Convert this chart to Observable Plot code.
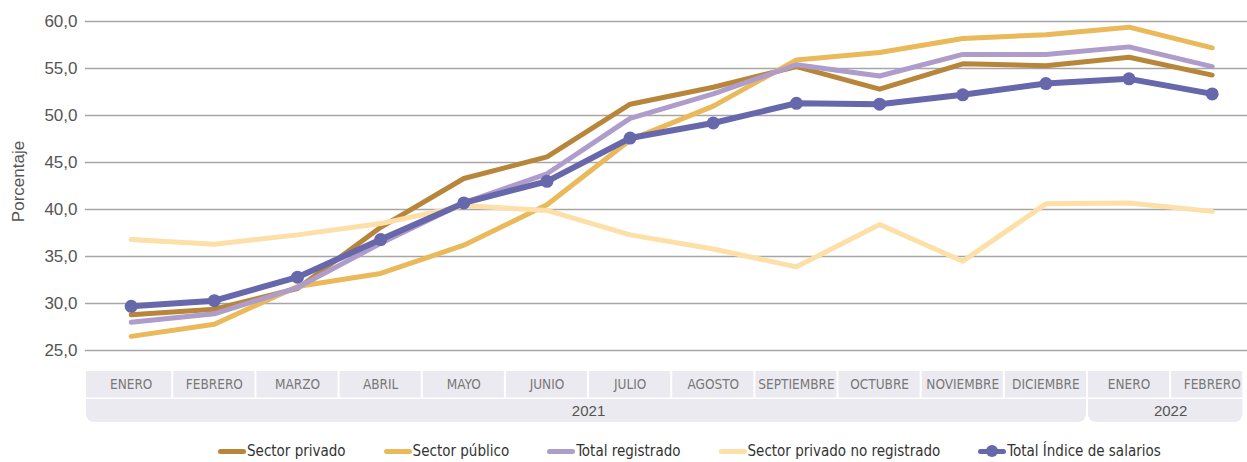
<!DOCTYPE html>
<html>
<head>
<meta charset="utf-8">
<script src="https://cdn.jsdelivr.net/npm/d3@7"></script>
<script src="https://cdn.jsdelivr.net/npm/@observablehq/plot@0.6"></script>
<style>
  body { margin: 0; background: #fff; font-family: "Liberation Sans", Arial, sans-serif; }
  #chart svg { display: block; }
  #legend { display: flex; align-items: center; padding-left: 218px; gap: 38px; height: 30px; margin-top: 6px;
            font-family: "Liberation Sans Narrow", "DejaVu Sans Condensed", "Roboto Condensed", "Liberation Sans", sans-serif;
            font-size: 15px; color: #333; }
  .item { display: flex; align-items: center; white-space: nowrap; }
  .sw { position: relative; width: 28px; height: 5px; border-radius: 3px; margin-right: 1px; }
  .sw .dot { position: absolute; left: 8px; top: -3.5px; width: 12px; height: 12px; border-radius: 50%; }
</style>
</head>
<body>
<div id="chart"></div>
<div id="legend"></div>
<script>
// ---- data ----
const months = ["ENERO","FEBRERO","MARZO","ABRIL","MAYO","JUNIO","JULIO","AGOSTO","SEPTIEMBRE","OCTUBRE","NOVIEMBRE","DICIEMBRE","ENERO","FEBRERO"];
const yearOf = ["2021","2021","2021","2021","2021","2021","2021","2021","2021","2021","2021","2021","2022","2022"];
const yearLabels = ["2021","2022"];
const yTicks = [25,30,35,40,45,50,55,60];

const sectorPrivado      = [28.8,29.4,31.6,38.1,43.3,45.6,51.2,53.0,55.2,52.8,55.5,55.3,56.2,54.3];
const sectorPublico      = [26.5,27.8,31.8,33.2,36.2,40.5,47.4,51.0,55.9,56.7,58.2,58.6,59.4,57.2];
const totalRegistrado    = [28.0,28.9,31.7,36.4,40.7,43.8,49.7,52.3,55.4,54.2,56.5,56.5,57.3,55.2];
const privadoNoRegistrado= [36.8,36.3,37.3,38.5,40.4,39.9,37.3,35.8,33.9,38.4,34.5,40.6,40.7,39.8];
const totalIndice        = [29.7,30.3,32.8,36.8,40.7,43.0,47.6,49.2,51.3,51.2,52.2,53.4,53.9,52.3];

const seriesNames  = ["Sector privado","Sector público","Total registrado","Sector privado no registrado","Total Índice de salarios"];
const seriesColors = ["#B8863B","#E9B95A","#AE9CCB","#FDDFA8","#6767AC"];
const seriesValues = [sectorPrivado, sectorPublico, totalRegistrado, privadoNoRegistrado, totalIndice];
const yLabel = "Porcentaje";

// ---- build tables ----
const rows = seriesNames.slice(0, 4).flatMap((s, k) => seriesValues[k].map((v, i) => ({serie: s, i, v})));
const totalRows = totalIndice.map((v, i) => ({serie: seriesNames[4], i, v}));

// ---- layout ----
const W = 1247, H = 430;
const yPxTop = 21, yPxBottom = 350;
const yMin = 25, yMax = 60;
const yAt = px => yMin + (yPxBottom - px) * (yMax - yMin) / (yPxBottom - yPxTop); // pixel -> y value (for the axis band)
const xStart = -0.55, xEnd = 13.38;
const cells = months.map((m, i) => ({i, m, x1: i === 0 ? xStart : i - 0.5, x2: i === months.length - 1 ? xEnd : i + 0.5}));
const yearCells = yearLabels.map(y => {
  const idx = yearOf.map((v, i) => v === y ? i : -1).filter(i => i >= 0);
  const a = idx[0], b = idx[idx.length - 1];
  return {y, mid: (a + b) / 2, x1: a === 0 ? xStart : a - 0.5, x2: b === months.length - 1 ? xEnd : b + 0.5};
});

const bandFill = "#ebeaf0";
const fmt = d => d.toFixed(1).replace(".", ",");
const narrow = "'Liberation Sans Narrow', 'DejaVu Sans Condensed', 'Roboto Condensed', 'Liberation Sans', sans-serif";

const chart = Plot.plot({
  width: W, height: H,
  marginLeft: 85, marginRight: 0, marginTop: 0, marginBottom: 0,
  style: {fontFamily: "'Liberation Sans', Arial, sans-serif", background: "#fff"},
  x: {domain: [0, 13], range: [130.7, 1211.7], axis: null},
  y: {domain: [yMin, yMax], range: [yPxBottom, yPxTop], axis: null},
  color: {domain: seriesNames, range: seriesColors},
  marks: [
    Plot.ruleY(yTicks, {stroke: "#a6a6a6", strokeWidth: 1.4}),
    Plot.axisY(yTicks, {tickSize: 0, tickPadding: 8, tickFormat: fmt, fontSize: 17, fill: "#555", label: null}),
    Plot.text([yLabel], {frameAnchor: "left", textAnchor: "middle", lineAnchor: "middle", y: yAt(181), dx: -67, rotate: -90, fontSize: 17, fill: "#555"}),
    // x-axis band: months row
    Plot.rect(cells, {x1: "x1", x2: "x2", y1: yAt(371), y2: yAt(397.5), fill: bandFill, insetLeft: 1, insetRight: 1}),
    Plot.text(cells, {x: "i", y: yAt(384.5), text: "m", fill: "#787878", fontSize: 13.5, fontFamily: narrow}),
    // years row
    Plot.rect(yearCells, {x1: "x1", x2: "x2", y1: yAt(399), y2: yAt(422), fill: bandFill, insetLeft: 1, insetRight: 1, rx: 8}),
    Plot.rect(yearCells, {x1: "x1", x2: "x2", y1: yAt(399), y2: yAt(410), fill: bandFill, insetLeft: 1, insetRight: 1}),
    Plot.text(yearCells, {x: "mid", y: yAt(410.5), text: "y", fill: "#555", fontSize: 15}),
    // series
    Plot.line(rows, {x: "i", y: "v", z: "serie", stroke: "serie", strokeWidth: 5, strokeLinecap: "round", strokeLinejoin: "round"}),
    Plot.line(totalRows, {x: "i", y: "v", stroke: "serie", strokeWidth: 6, strokeLinecap: "round", strokeLinejoin: "round"}),
    Plot.dot(totalRows, {x: "i", y: "v", r: 6.5, fill: "serie", stroke: "none"})
  ]
});
document.getElementById("chart").appendChild(chart);

// ---- legend ----
const legend = document.getElementById("legend");
seriesNames.forEach((n, k) => {
  const it = document.createElement("div"); it.className = "item";
  const sw = document.createElement("span"); sw.className = "sw"; sw.style.background = seriesColors[k];
  if (k === 4) { const d = document.createElement("span"); d.className = "dot"; d.style.background = seriesColors[k]; sw.appendChild(d); }
  const t = document.createElement("span"); t.textContent = n;
  it.appendChild(sw); it.appendChild(t); legend.appendChild(it);
});
</script>
</body>
</html>
